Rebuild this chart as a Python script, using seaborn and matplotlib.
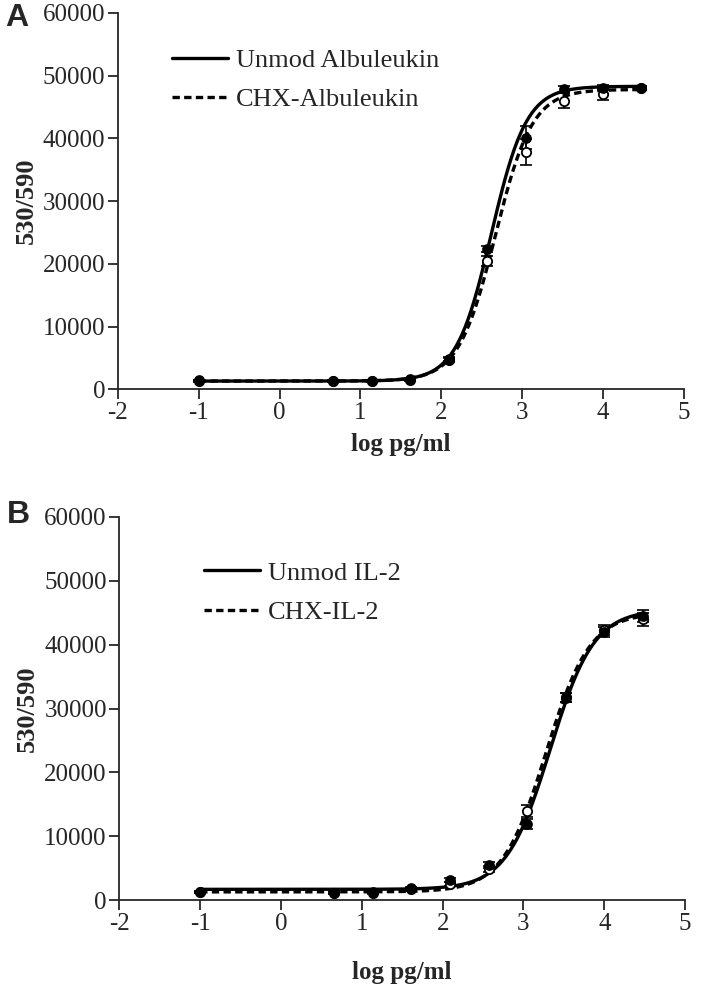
import numpy as np
import pandas as pd
import matplotlib
matplotlib.use("Agg")
import matplotlib.pyplot as plt
import seaborn as sns

# log pg/ml dose points (3-fold dilutions, zero dose plotted at -1)
log_dose = [-1.0, 0.659, 1.137, 1.614, 2.091, 2.568, 3.046, 3.523, 4.0, 4.477]

# Panel A: Albuleukin
a_unmod = [1400, 1300, 1300, 1600, 4800, 22400, 40100, 47900, 48100, 48000]
a_unmod_err = [150, 150, 150, 200, 300, 500, 1800, 500, 400, 300]
a_chx = [1300, 1300, 1300, 1500, 4700, 20500, 37800, 46000, 47100, 48000]
a_chx_err = [150, 150, 150, 200, 300, 800, 2100, 1200, 1000, 300]

# Panel B: IL-2
b_unmod = [1300, 1100, 1300, 1900, 3100, 5500, 11900, 31700, 42000, 44500]
b_unmod_err = [200, 200, 200, 200, 300, 500, 800, 700, 800, 1000]
b_chx = [1300, 1200, 1100, 1700, 2500, 4900, 14000, 31800, 42300, 44000]
b_chx_err = [200, 200, 200, 200, 300, 500, 900, 700, 800, 1000]

# 4PL fit parameters: bottom, top, logEC50, hill
a_unmod_fit = [1300, 48300, 2.62, 2.0]
a_chx_fit = [1300, 47800, 2.67, 1.9]
b_unmod_fit = [1700, 45500, 3.33, 1.6]
b_chx_fit = [1300, 45000, 3.28, 1.6]

sns.set_style("ticks")
plt.rcParams['font.family'] = ['Liberation Serif', 'DejaVu Serif']
plt.rcParams['axes.unicode_minus'] = False
plt.rcParams['xtick.labelsize'] = 18
plt.rcParams['ytick.labelsize'] = 18


def fit_curve(p):
    x = np.linspace(-1, 4.477, 300)
    y = p[0] + (p[1] - p[0]) / (1 + 10 ** ((p[2] - x) * p[3]))
    return pd.DataFrame({'x': x, 'y': y})


def draw_panel(ax, unmod, unmod_err, chx, chx_err, fit_u, fit_c, names, xpad):
    cu = fit_curve(fit_u)
    cc = fit_curve(fit_c)
    sns.lineplot(data=cu, x='x', y='y', ax=ax, color='black', lw=2.4,
                 label=names[0], zorder=3)
    sns.lineplot(data=cc, x='x', y='y', ax=ax, color='black', lw=2.4,
                 label=names[1], zorder=3)
    ax.lines[1].set_linestyle((0, (2.2, 1.3)))
    ax.errorbar(log_dose, chx, yerr=chx_err, fmt='none', ecolor='black',
                elinewidth=1.2, capsize=4, capthick=1.2, zorder=4)
    ax.errorbar(log_dose, unmod, yerr=unmod_err, fmt='none', ecolor='black',
                elinewidth=1.2, capsize=4, capthick=1.2, zorder=4)
    sns.scatterplot(x=log_dose, y=chx, ax=ax, color='white', edgecolor='black',
                    linewidth=1.3, s=45, zorder=5, legend=False)
    sns.scatterplot(x=log_dose, y=unmod, ax=ax, color='black', edgecolor='black',
                    linewidth=1.0, s=45, zorder=6, legend=False)

    ax.set_xlim(-2, 5)
    ax.set_ylim(0, 60000)
    ax.set_xticks(range(-2, 6))
    ax.set_yticks(range(0, 60001, 10000))
    ax.set_xlabel('log pg/ml', fontsize=18, fontweight='bold', labelpad=xpad)
    ax.set_ylabel('530/590', fontsize=19, fontweight='bold', labelpad=4)
    sns.despine(ax=ax)
    for s in ['left', 'bottom']:
        ax.spines[s].set_linewidth(1.3)
    ax.tick_params(width=1.3, length=7, direction='out', pad=2)


fig = plt.figure(figsize=(7.02, 9.98), dpi=100)
ax1 = fig.add_axes([0.168, 0.610, 0.806, 0.377])
ax2 = fig.add_axes([0.170, 0.098, 0.806, 0.384])

draw_panel(ax1, a_unmod, a_unmod_err, a_chx, a_chx_err, a_unmod_fit, a_chx_fit,
           ['Unmod Albuleukin', 'CHX-Albuleukin'], 7)
draw_panel(ax2, b_unmod, b_unmod_err, b_chx, b_chx_err, b_unmod_fit, b_chx_fit,
           ['Unmod IL-2', 'CHX-IL-2'], 19)

for ax, pos in [(ax1, (0.096, 0.905)), (ax2, (0.15, 0.885))]:
    leg = ax.legend(loc='upper left', bbox_to_anchor=pos, frameon=False,
                    fontsize=19, handlelength=2.1, handletextpad=0.3,
                    labelspacing=0.6, borderpad=0, borderaxespad=0)
    for h in leg.get_lines():
        h.set_linewidth(2.4)

fig.text(0.008, 0.982, 'A', fontsize=23, fontweight='bold',
         family='Liberation Sans', va='center')
fig.text(0.010, 0.484, 'B', fontsize=23, fontweight='bold',
         family='Liberation Sans', va='center')

fig.savefig('out.png', dpi=100)
